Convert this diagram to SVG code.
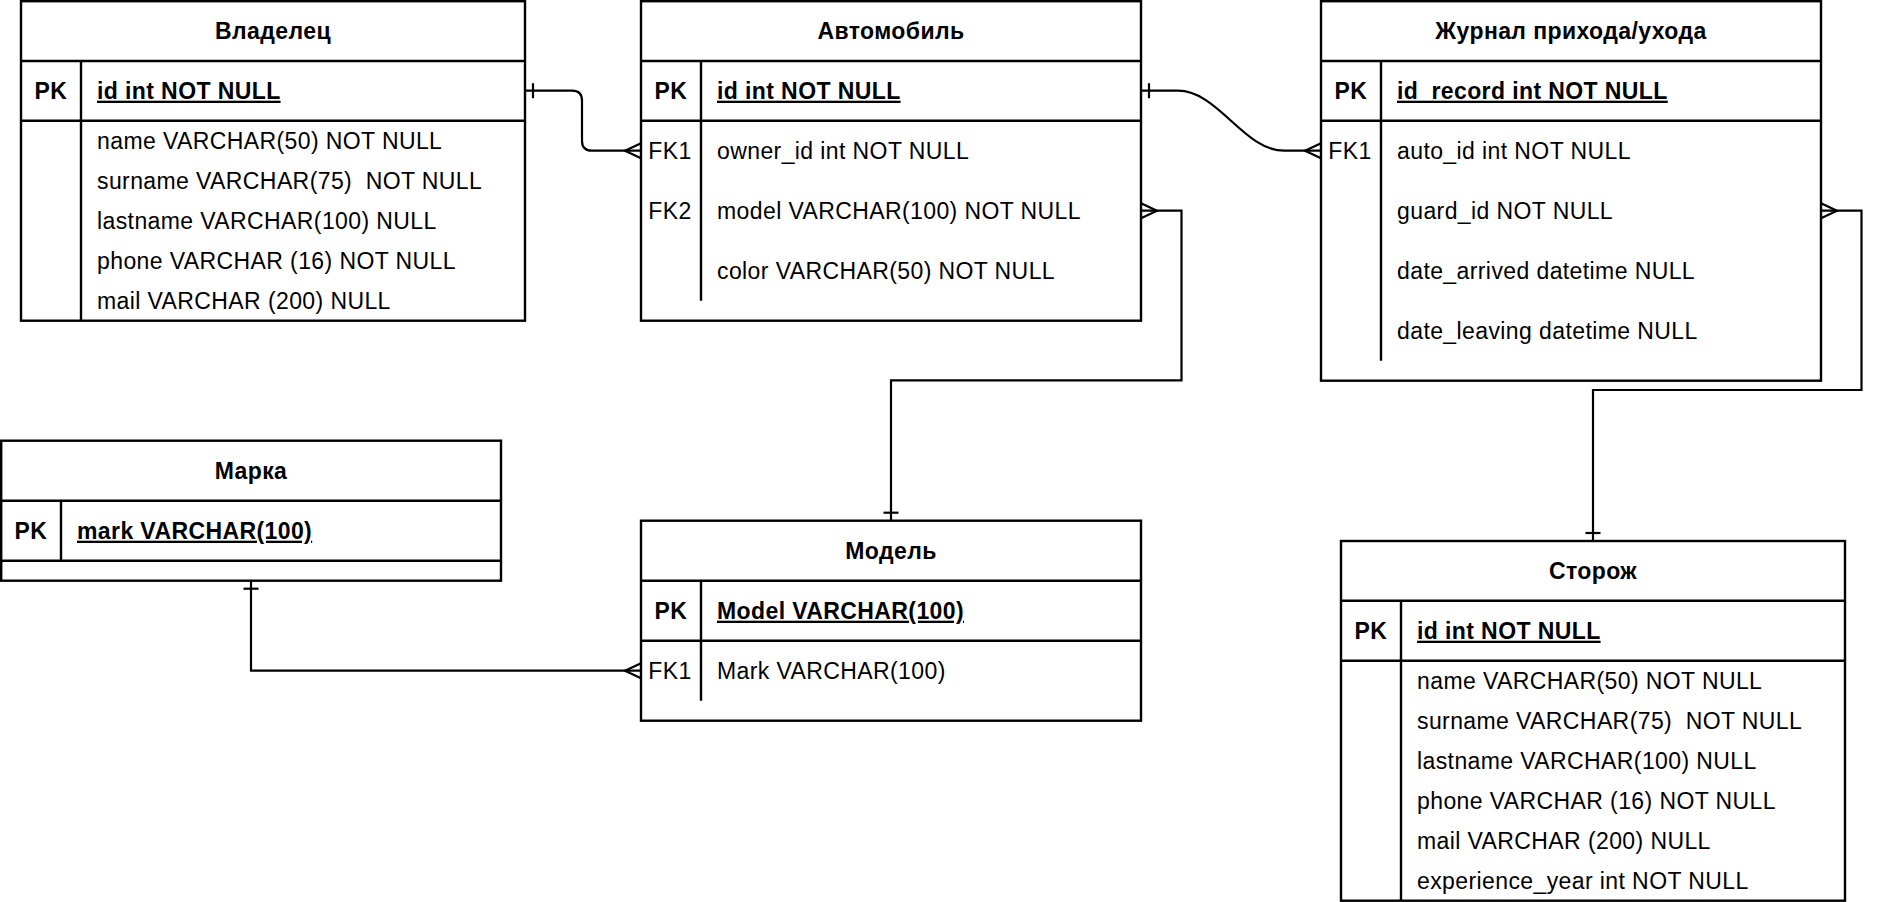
<svg xmlns="http://www.w3.org/2000/svg" width="1880" height="902" viewBox="0 0 1880 902">
<style>
.box{fill:#fff;stroke:#000;stroke-width:2.4}
.ln{fill:none;stroke:#000;stroke-width:2.4}
.cn{fill:none;stroke:#000;stroke-width:2.2}
text{font-family:"Liberation Sans",Arial,Helvetica,sans-serif;font-size:23px;fill:#000;letter-spacing:0.4px}
.t{font-weight:bold;text-anchor:middle}
.pk{font-weight:bold;text-anchor:middle}
.fk{text-anchor:middle}
.pf{font-weight:bold;text-decoration:underline}
</style>
<rect width="1880" height="902" fill="#fff"/>
<g id="conn">
<!-- Владелец -> Автомобиль -->
<path class="cn" d="M525,90.7 H572 Q582,90.7 582,100.7 V140.7 Q582,150.7 592,150.7 H641"/>
<path class="cn" d="M533,83.2 V98.2"/>
<path class="cn" d="M641,143.2 L625,150.7 L641,158.2"/>
<!-- Автомобиль -> Журнал -->
<path class="cn" d="M1141,90.7 H1178 C1218,90.7 1244,150.7 1284,150.7 H1321"/>
<path class="cn" d="M1149,83.2 V98.2"/>
<path class="cn" d="M1321,143.2 L1305,150.7 L1321,158.2"/>
<!-- Автомобиль.model -> Модель -->
<path class="cn" d="M1141,210.7 H1181.5 V380.4 H891 V520.7"/>
<path class="cn" d="M1141,203.2 L1157,210.7 L1141,218.2"/>
<path class="cn" d="M883.5,512.7 H898.5"/>
<!-- Журнал.guard -> Сторож -->
<path class="cn" d="M1821,210.7 H1861.5 V390 H1593 V541"/>
<path class="cn" d="M1821,203.2 L1837,210.7 L1821,218.2"/>
<path class="cn" d="M1585.5,533 H1600.5"/>
<!-- Марка -> Модель -->
<path class="cn" d="M251,580.7 V670.7 H641"/>
<path class="cn" d="M243.5,588.7 H258.5"/>
<path class="cn" d="M641,663.2 L625,670.7 L641,678.2"/>
</g>
<g id="owner">
<rect class="box" x="21" y="1.2" width="504" height="319.5"/>
<path class="ln" d="M21,61 H525 M21,120.7 H525 M81,61 V320.7"/>
<text class="t" x="273" y="39">Владелец</text>
<text class="pk" x="51" y="98.7">PK</text>
<text class="pf" x="97" y="98.7">id int NOT NULL</text>
<text x="97" y="148.7">name VARCHAR(50) NOT NULL</text>
<text x="97" y="188.7" xml:space="preserve">surname VARCHAR(75)  NOT NULL</text>
<text x="97" y="228.7">lastname VARCHAR(100) NULL</text>
<text x="97" y="268.7">phone VARCHAR (16) NOT NULL</text>
<text x="97" y="308.7">mail VARCHAR (200) NULL</text>
</g>
<g id="auto">
<rect class="box" x="641" y="1.2" width="500" height="319.5"/>
<path class="ln" d="M641,61 H1141 M641,120.7 H1141 M701,61 V300.7"/>
<text class="t" x="891" y="39">Автомобиль</text>
<text class="pk" x="671" y="98.7">PK</text>
<text class="pf" x="717" y="98.7">id int NOT NULL</text>
<text class="fk" x="670" y="158.7">FK1</text>
<text x="717" y="158.7">owner_id int NOT NULL</text>
<text class="fk" x="670" y="218.7">FK2</text>
<text x="717" y="218.7">model VARCHAR(100) NOT NULL</text>
<text x="717" y="278.7">color VARCHAR(50) NOT NULL</text>
</g>
<g id="journal">
<rect class="box" x="1321" y="1.2" width="500" height="379.5"/>
<path class="ln" d="M1321,61 H1821 M1321,120.7 H1821 M1381,61 V360.7"/>
<text class="t" x="1571" y="39">Журнал прихода/ухода</text>
<text class="pk" x="1351" y="98.7">PK</text>
<text class="pf" x="1397" y="98.7">id_record int NOT NULL</text>
<text class="fk" x="1350" y="158.7">FK1</text>
<text x="1397" y="158.7">auto_id int NOT NULL</text>
<text x="1397" y="218.7">guard_id NOT NULL</text>
<text x="1397" y="278.7">date_arrived datetime NULL</text>
<text x="1397" y="338.7">date_leaving datetime NULL</text>
</g>
<g id="mark">
<rect class="box" x="1.2" y="440.7" width="499.8" height="140"/>
<path class="ln" d="M1.2,500.7 H501 M1.2,560.7 H501 M61,500.7 V560.7"/>
<text class="t" x="251" y="478.7">Марка</text>
<text class="pk" x="31" y="538.7">PK</text>
<text class="pf" x="77" y="538.7">mark VARCHAR(100)</text>
</g>
<g id="model">
<rect class="box" x="641" y="520.7" width="500" height="200"/>
<path class="ln" d="M641,580.7 H1141 M641,640.7 H1141 M701,580.7 V700.7"/>
<text class="t" x="891" y="558.7">Модель</text>
<text class="pk" x="671" y="618.7">PK</text>
<text class="pf" x="717" y="618.7">Model VARCHAR(100)</text>
<text class="fk" x="670" y="678.7">FK1</text>
<text x="717" y="678.7">Mark VARCHAR(100)</text>
</g>
<g id="guard">
<rect class="box" x="1341" y="541" width="504" height="359.7"/>
<path class="ln" d="M1341,600.7 H1845 M1341,660.7 H1845 M1401,600.7 V900.7"/>
<text class="t" x="1593" y="578.8">Сторож</text>
<text class="pk" x="1371" y="638.7">PK</text>
<text class="pf" x="1417" y="638.7">id int NOT NULL</text>
<text x="1417" y="688.7">name VARCHAR(50) NOT NULL</text>
<text x="1417" y="728.7" xml:space="preserve">surname VARCHAR(75)  NOT NULL</text>
<text x="1417" y="768.7">lastname VARCHAR(100) NULL</text>
<text x="1417" y="808.7">phone VARCHAR (16) NOT NULL</text>
<text x="1417" y="848.7">mail VARCHAR (200) NULL</text>
<text x="1417" y="888.7">experience_year int NOT NULL</text>
</g>
</svg>
